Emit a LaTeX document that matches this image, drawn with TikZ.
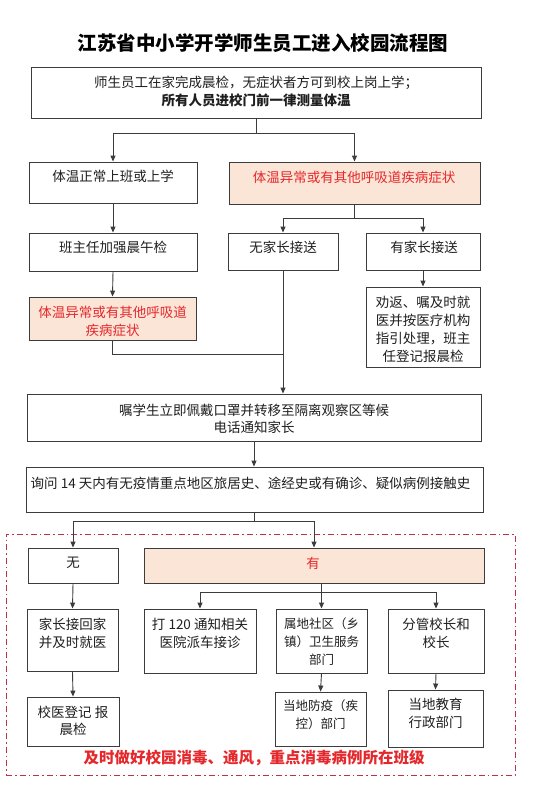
\documentclass[tikz,border=0pt]{standalone}
\usepackage{fontspec}
\setmainfont{Noto Sans CJK SC}
\usetikzlibrary{arrows.meta}
\definecolor{ln}{HTML}{3C3C3C}
\definecolor{rd}{HTML}{E5282C}
\definecolor{pk}{HTML}{FBE5D6}
\definecolor{dr}{HTML}{C0304A}
\begin{document}
\begin{tikzpicture}[x=1pt,y=-1pt,
  box/.style={draw=ln,line width=0.9pt,rectangle,inner sep=0pt},
  hot/.style={box,fill=pk},
  txt/.style={inner sep=0pt,align=center,font=\fontsize{13.5}{18}\selectfont,text=black!88},
  rtxt/.style={txt,text=rd},
  conn/.style={draw=ln,line width=0.9pt},
  arr/.style={conn,-{Triangle[length=6pt,width=5pt]}}
]
\fill[white] (0,0) rectangle (550,787);
\useasboundingbox (0,0) rectangle (550,787);

% title
\node[inner sep=0pt,font=\fontsize{19.5}{24}\selectfont\bfseries] (title) at (263,43) {江苏省中小学开学师生员工进入校园流程图};

% dashed frame
\node[draw=dr,line width=0.9pt,dash pattern=on 6pt off 3pt on 1.5pt off 3pt,inner sep=0pt,minimum width=509pt,minimum height=241pt] (frame) at (260.5,654.5) {};

% boxes
\node[box,minimum width=450pt,minimum height=51pt] (b1) at (256,92.5) {};
\node[txt] (b1t) at (256,91) {师生员工在家完成晨检，无症状者方可到校上岗上学；\\\bfseries 所有人员进校门前一律测量体温};

\node[box,minimum width=168pt,minimum height=41pt] (a1) at (113,182.5) {};
\node[txt] (a1t) at (113,176) {体温正常上班或上学};

\node[hot,minimum width=251pt,minimum height=42pt] (a2) at (354.5,183) {};
\node[rtxt] (a2t) at (354,177) {体温异常或有其他呼吸道疾病症状};

\node[box,minimum width=168pt,minimum height=38pt] (a3) at (113,252) {};
\node[txt] (a3t) at (113,247) {班主任加强晨午检};

\node[hot,minimum width=167pt,minimum height=43pt] (a4) at (112.5,318.5) {};
\node[rtxt] (a4t) at (112.5,321) {体温异常或有其他呼吸道\\疾病症状};

\node[box,minimum width=110pt,minimum height=37pt] (a5) at (283,251.5) {};
\node[txt] (a5t) at (283,247) {无家长接送};

\node[box,minimum width=114pt,minimum height=37pt] (a6) at (423,251.5) {};
\node[txt] (a6t) at (424,247) {有家长接送};

\node[box,minimum width=114pt,minimum height=80pt] (a7) at (423,327) {};
\node[txt] (a7t) at (423,329) {劝返、嘱及时就\\医并按医疗机构\\指引处理，班主\\任登记报晨检};

\node[box,minimum width=454pt,minimum height=47pt] (b2) at (254,417.5) {};
\node[txt,font=\fontsize{13.5}{17}\selectfont] (b2t) at (254,418.5) {嘱学生立即佩戴口罩并转移至隔离观察区等候\\电话通知家长};

\node[box,minimum width=457pt,minimum height=45pt] (b3) at (254.5,489.5) {};
\node[txt] (b3t) at (250.5,483) {询问 14 天内有无疫情重点地区旅居史、途经史或有确诊、疑似病例接触史};

\node[box,minimum width=90pt,minimum height=35pt] (c1) at (73,565.5) {};
\node[txt] (c1t) at (73,563) {无};

\node[hot,minimum width=340pt,minimum height=35pt] (c2) at (314,565.5) {};
\node[rtxt] (c2t) at (313,563) {有};

\node[box,minimum width=91pt,minimum height=62pt] (c3) at (72.5,640) {};
\node[txt] (c3t) at (72.5,633.5) {家长接回家\\并及时就医};

\node[box,minimum width=92pt,minimum height=49pt] (c4) at (73,721.5) {};
\node[txt,font=\fontsize{13.5}{17}\selectfont] (c4t) at (73,720.5) {校医登记\ 报\\晨检};

\node[box,minimum width=112pt,minimum height=64pt] (c5) at (200,641) {};
\node[txt] (c5t) at (200,633.5) {打 120 通知相关\\医院派车接诊};

\node[box,minimum width=91pt,minimum height=64pt] (c6) at (321.5,641) {};
\node[txt,font=\fontsize{12.5}{18}\selectfont] (c6t) at (321.5,642) {属地社区（乡\\镇）卫生服务\\部门};

\node[box,minimum width=96pt,minimum height=64pt] (c7) at (436,641) {};
\node[txt] (c7t) at (436,633.5) {分管校长和\\校长};

\node[box,minimum width=91pt,minimum height=54pt] (c8) at (320.5,719) {};
\node[txt,font=\fontsize{12.5}{18}\selectfont] (c8t) at (320.5,715) {当地防疫（疾\\控）部门};

\node[box,minimum width=95pt,minimum height=57pt] (c9) at (435.5,718.5) {};
\node[txt] (c9t) at (435.5,713) {当地教育\\行政部门};

% bottom note
\node[inner sep=0pt,font=\fontsize{15.5}{18}\selectfont\bfseries,text=rd] (note) at (254,758) {及时做好校园消毒、通风，重点消毒病例所在班级};

% connectors
\draw[conn] (b1.south) -- ++(0,15) coordinate (j0);
\draw[arr] (j0) -| (a1.north);
\draw[arr] (j0) -| (a2.north);
\draw[arr] (a1.south) -- (a3.north);
\draw[arr] (a3.south) -- (a4.north);
\coordinate (j1) at (a5.south |- 0,354);
\draw[conn] (a4.south) |- (j1);
\draw[arr] (a5.south) -- (a5.south |- b2.north);
\draw[conn] (a2.south) -- ++(0,14) coordinate (j2);
\draw[arr] (j2) -| (a5.north);
\draw[arr] (j2) -| (a6.north);
\draw[arr] (a6.south) -- (a7.north);
\draw[arr] (b2.south) -- (b2.south |- b3.north);
\draw[conn] (b3.south) -- ++(0,9) coordinate (j3);
\draw[arr] (j3) -| (c1.north);
\draw[arr] (j3) -| (c2.north);
\draw[arr] (c1.south) -- (c3.north);
\draw[arr] (c3.south) -- (c4.north);
\coordinate (j4) at (c6.north |- c2.south);
\draw[conn] (j4) -- ++(0,9) coordinate (j5);
\draw[arr] (j5) -| (c5.north);
\draw[arr] (j5) -- (c6.north);
\draw[arr] (j5) -| (c7.north);
\draw[arr] (c6.south) -- (c8.north);
\draw[arr] (c7.south) -- (c9.north);
\end{tikzpicture}
\end{document}
